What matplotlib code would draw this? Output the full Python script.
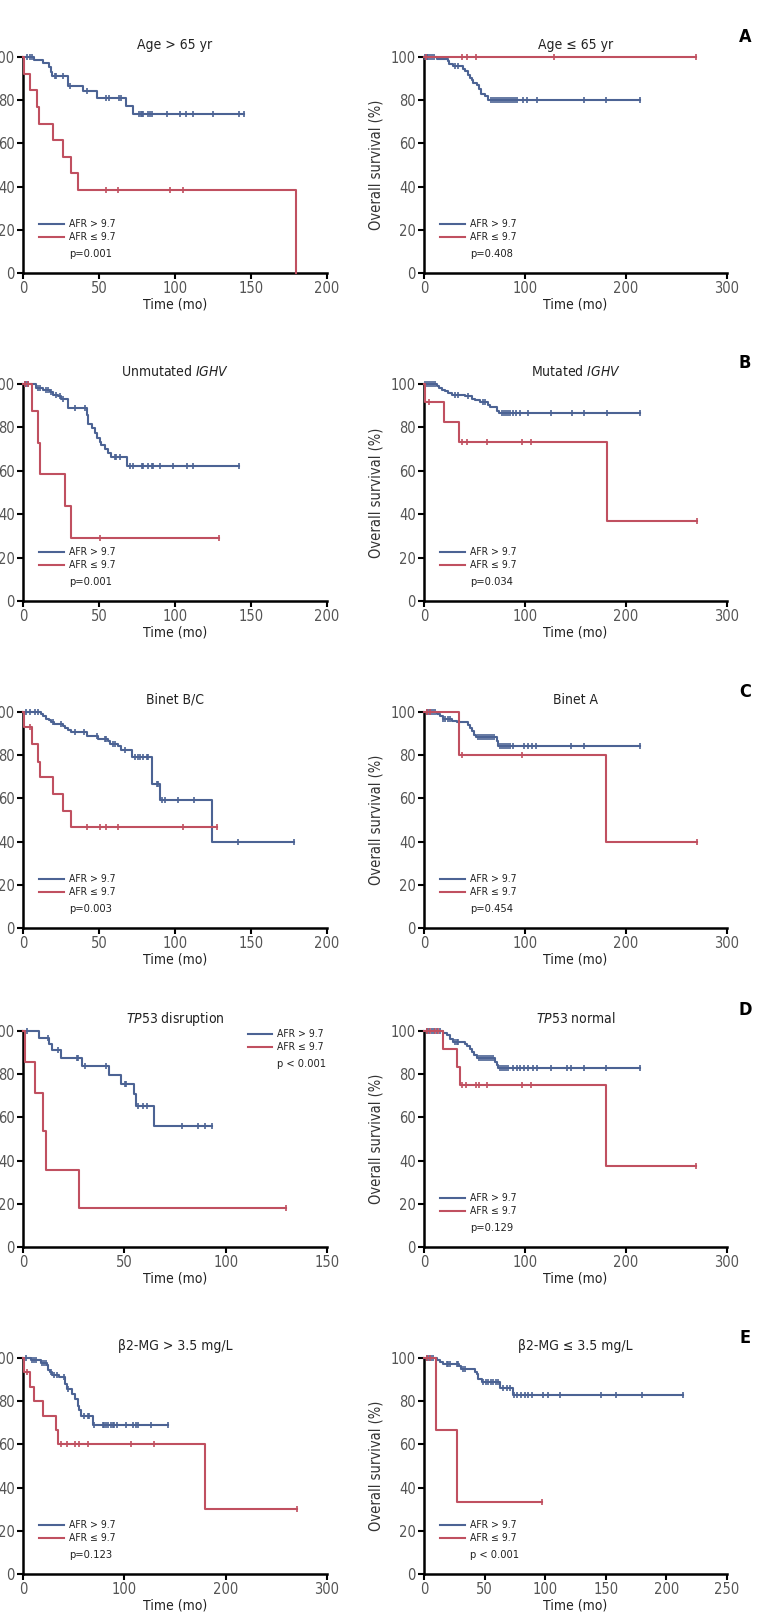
import numpy as np
import matplotlib
matplotlib.use("Agg")
import matplotlib.pyplot as plt

plt.rcParams["font.family"] = ["DejaVu Sans"]
plt.rcParams["font.stretch"] = "condensed"
plt.rcParams["mathtext.fontset"] = "custom"
plt.rcParams["mathtext.it"] = "DejaVu Sans:italic:stretch=condensed"
plt.rcParams["mathtext.rm"] = "DejaVu Sans:stretch=condensed"

BLUE = "#4c6394"
RED = "#c05060"
GRAY = "#555555"

# ---- data: event times (mo), survival (%) after each event, censor times ----
A1_BLUE_T = [7.3, 13.2, 17.1, 18.7, 19.3, 29.7, 39.6, 48.8, 67.7, 72.5]
A1_BLUE_S = [98.5, 97.0, 95.4, 93.2, 91.3, 86.6, 84.2, 81.1, 77.2, 73.5]
A1_BLUE_C = [2.6, 4.4, 5.9, 20.9, 22.0, 26.4, 30.8, 41.8, 54.5, 56.7, 63.3, 64.6,
             76.5, 77.4, 78.5, 79.1, 82.4, 83.5, 84.6, 94.5, 103.3, 107.3, 112.0,
             125.3, 142.4, 145.7]
A1_RED_T = [0.4, 4.8, 9.2, 10.5, 19.8, 26.4, 31.9, 36.3, 179.8]
A1_RED_S = [92.3, 84.6, 76.9, 69.2, 61.5, 53.8, 46.2, 38.5, 0.0]
A1_RED_C = [54.9, 62.6, 96.7, 105.5]

A2_BLUE_T = [12.6, 24.1, 24.8, 29.0, 38.3, 40.6, 43.3, 45.6, 47.2, 48.9, 52.2, 54.5,
             56.5, 60.5, 63.8]
A2_BLUE_S = [98.9, 98.0, 96.8, 95.7, 94.6, 93.4, 91.8, 90.3, 89.2, 88.0, 86.9, 85.2,
             83.0, 81.8, 80.2]
A2_BLUE_C = [1.0, 2.5, 4.0, 6.0, 8.0, 10.0, 30.7, 34.0, 66, 68, 70, 72, 74, 76, 78,
             80, 82, 84, 86, 88, 90, 92, 98.4, 101.8, 111.7, 158.6, 180.0, 214.0]
A2_RED_T = []
A2_RED_S = []
A2_RED_C = [1.5, 37.3, 42.9, 51.2, 128.8, 269.6]

B1_BLUE_T = [8.4, 13.2, 17.6, 19.8, 23.1, 25.3, 29.7, 42.2, 42.9, 45.1, 47.3, 48.4,
             50.5, 51.6, 53.8, 56.0, 58.2, 68.1]
B1_BLUE_S = [98.2, 97.1, 96.1, 95.1, 94.3, 93.2, 88.8, 85.8, 81.7, 79.7, 77.3, 75.0,
             73.5, 72.0, 70.0, 68.4, 66.4, 62.2]
B1_BLUE_C = [1.1, 2.2, 3.3, 9.9, 11.0, 14.9, 16.5, 18.7, 21.5, 24.2, 26.4, 34.1, 40.7,
             60.4, 61.5, 63.7, 70.3, 72.5, 78.0, 79.1, 82.4, 84.6, 85.7, 90.1, 98.9,
             107.7, 112.1, 142.2]
B1_RED_T = [5.9, 9.9, 11.0, 27.5, 31.9]
B1_RED_S = [87.5, 72.9, 58.3, 43.8, 29.2]
B1_RED_C = [1.1, 3.3, 50.5, 128.8]

B2_BLUE_T = [12.6, 15.2, 17.5, 20.8, 24.1, 27.4, 40.6, 47.2, 50.5, 55.5, 63.1, 65.4,
             72.0, 74.3]
B2_BLUE_S = [99.2, 98.2, 97.4, 96.6, 95.8, 95.1, 94.3, 93.2, 92.5, 91.5, 90.4, 89.4,
             87.5, 86.6]
B2_BLUE_C = [1.0, 3.0, 5.0, 7.0, 9.0, 11.0, 30.7, 34.0, 43.9, 58.8, 60.5, 77, 79, 81,
             83, 85, 88, 91, 95, 103.4, 125.9, 146.3, 158.9, 181.0, 214.0]
B2_RED_T = [0.5, 19.8, 35.0, 181.0]
B2_RED_S = [91.7, 82.5, 73.3, 36.7]
B2_RED_C = [5.0, 37.3, 42.9, 62.8, 96.8, 105.7, 270.2]

C1_BLUE_T = [12.1, 13.2, 15.4, 17.1, 18.7, 20.4, 26.4, 27.5, 29.7, 31.9, 41.8, 49.5,
             56.0, 57.1, 62.6, 64.2, 71.4, 84.6, 90.1, 124.6]
C1_BLUE_S = [99.1, 98.0, 96.9, 96.1, 95.2, 94.3, 93.4, 92.6, 91.8, 90.7, 88.7, 87.5,
             86.4, 85.3, 84.1, 82.6, 79.2, 66.8, 59.1, 39.7]
C1_BLUE_C = [2.2, 4.4, 8.1, 9.9, 19.8, 25.3, 34.1, 40.2, 48.4, 53.8, 54.9, 59.3, 60.4,
             67.0, 73.6, 75.8, 76.9, 79.1, 81.3, 82.4, 87.9, 89.0, 91.2, 93.4, 102.2,
             112.5, 141.5, 178.0]
C1_RED_T = [0.7, 5.9, 9.9, 11.0, 19.8, 26.4, 31.9]
C1_RED_S = [92.9, 85.2, 76.9, 69.8, 62.0, 54.3, 46.6]
C1_RED_C = [4.8, 42.4, 50.5, 54.5, 62.6, 105.0, 127.5]

C2_BLUE_T = [12.6, 15.9, 18.5, 27.4, 33.0, 44.0, 45.6, 47.2, 49.6, 51.5, 72.0, 73.7]
C2_BLUE_S = [98.9, 98.0, 96.9, 96.0, 95.2, 94.1, 92.6, 91.0, 89.5, 88.4, 86.4, 84.4]
C2_BLUE_C = [2.6, 4.5, 6.5, 8.5, 10.5, 19.2, 20.8, 24.1, 25.8, 35.0, 53, 55, 57, 59,
             61, 63, 65, 67, 69, 75, 77, 79, 81, 83, 85, 88.5, 99.0, 103.4, 107.3,
             111.0, 145.7, 158.6, 214.0]
C2_RED_T = [34.7, 180.4]
C2_RED_S = [80.0, 40.0]
C2_RED_C = [2.6, 5.9, 37.3, 97.5, 270.0]

D1_BLUE_T = [8.0, 12.7, 14.2, 18.9, 28.9, 42.3, 48.2, 54.8, 55.7, 64.5]
D1_BLUE_S = [96.9, 93.8, 91.0, 87.7, 84.0, 79.5, 75.3, 70.7, 65.1, 55.9]
D1_BLUE_C = [1.8, 12.2, 17.2, 26.4, 27.3, 30.6, 41.1, 50.2, 50.7, 56.5, 59.0, 61.0,
             78.3, 86.3, 90.0, 93.3]
D1_RED_T = [0.8, 5.9, 10.0, 11.4, 27.6]
D1_RED_S = [85.7, 71.4, 53.6, 35.7, 17.9]
D1_RED_C = [129.8]

D2_BLUE_T = [19.2, 22.5, 25.8, 29.1, 40.6, 42.9, 45.6, 47.9, 49.9, 52.2, 70.4, 72.0,
             73.7]
D2_BLUE_S = [99.1, 98.0, 96.5, 94.9, 94.1, 93.1, 91.8, 90.3, 89.0, 87.7, 85.6, 84.1,
             82.7]
D2_BLUE_C = [2.6, 5.0, 7.5, 10.0, 12.5, 15.9, 30.7, 32.4, 34.0, 54, 56, 58, 60, 62,
             64, 66, 68, 75.5, 77.5, 79.5, 81.5, 83.5, 88.5, 91.8, 95.1, 99.1, 103.4,
             107.7, 111.7, 125.9, 142.0, 145.7, 158.9, 180.0, 214.0]
D2_RED_T = [19.2, 33.0, 35.7, 180.4]
D2_RED_S = [91.5, 83.2, 74.8, 37.3]
D2_RED_C = [2.6, 5.9, 10.9, 14.2, 37.3, 41.6, 51.5, 54.2, 62.1, 96.8, 106.0, 269.2]

E1_BLUE_T = [8.3, 17.5, 24.1, 25.1, 26.4, 29.0, 35.6, 41.6, 43.2, 48.8, 51.5, 53.8,
             55.4, 57.1, 68.6]
E1_BLUE_S = [98.9, 97.8, 96.8, 94.6, 93.4, 92.3, 91.2, 88.0, 85.6, 83.5, 80.8, 78.0,
             75.8, 73.3, 68.8]
E1_BLUE_C = [3.3, 9.2, 10.9, 12.5, 19.1, 20.8, 22.4, 27.5, 30.7, 34.0, 40.6, 44.5,
             60.4, 63.7, 65.3, 70.3, 78.5, 80.2, 81.8, 83.5, 86.8, 88.4, 90.1, 92.4,
             101.7, 108.3, 111.6, 113.2, 126.4, 142.9]
E1_RED_T = [1.0, 6.6, 10.9, 20.1, 32.3, 35.0, 179.9]
E1_RED_S = [93.3, 86.7, 80.0, 73.3, 66.7, 60.0, 30.0]
E1_RED_C = [4.3, 37.3, 43.9, 51.5, 55.4, 63.7, 106.6, 129.0, 270.0]

E2_BLUE_T = [10.4, 13.2, 15.9, 28.8, 30.2, 42.0, 43.4, 44.8, 47.5, 62.6, 73.1]
E2_BLUE_S = [99.1, 98.1, 97.2, 96.1, 94.7, 93.5, 92.4, 90.5, 88.8, 86.2, 82.8]
E2_BLUE_C = [2.2, 4.0, 6.0, 7.7, 18.7, 20.0, 21.4, 26.9, 28.3, 32.4, 33.8, 49, 51, 53,
             55, 57, 59, 61, 65.4, 68.1, 70.9, 74.5, 77, 80, 83, 86, 88.7, 97.8,
             102.5, 112.1, 145.9, 158.8, 179.9, 213.7]
E2_RED_T = [9.6, 26.9]
E2_RED_S = [66.7, 33.3]
E2_RED_C = [2.2, 4.9, 97.5]

TITLES = ["Age > 65 yr", "Age \u2264 65 yr",
          "Unmutated $\\mathit{IGHV}$", "Mutated $\\mathit{IGHV}$",
          "Binet B/C", "Binet A",
          "$\\mathit{TP53}$ disruption", "$\\mathit{TP53}$ normal",
          "\u03b22-MG > 3.5 mg/L", "\u03b22-MG \u2264 3.5 mg/L"]
P_VALUES = ["p=0.001", "p=0.408", "p=0.001", "p=0.034", "p=0.003", "p=0.454",
            "p < 0.001", "p=0.129", "p=0.123", "p < 0.001"]
X_MAX = [200, 300, 200, 300, 200, 300, 150, 300, 300, 250]
X_STEP = [50, 100, 50, 100, 50, 100, 50, 100, 100, 50]
ROW_LETTERS = ["A", "B", "C", "D", "E"]
GROUP_LABELS = ["AFR > 9.7", "AFR \u2264 9.7"]

CURVES = [
    ((A1_BLUE_T, A1_BLUE_S, A1_BLUE_C), (A1_RED_T, A1_RED_S, A1_RED_C)),
    ((A2_BLUE_T, A2_BLUE_S, A2_BLUE_C), (A2_RED_T, A2_RED_S, A2_RED_C)),
    ((B1_BLUE_T, B1_BLUE_S, B1_BLUE_C), (B1_RED_T, B1_RED_S, B1_RED_C)),
    ((B2_BLUE_T, B2_BLUE_S, B2_BLUE_C), (B2_RED_T, B2_RED_S, B2_RED_C)),
    ((C1_BLUE_T, C1_BLUE_S, C1_BLUE_C), (C1_RED_T, C1_RED_S, C1_RED_C)),
    ((C2_BLUE_T, C2_BLUE_S, C2_BLUE_C), (C2_RED_T, C2_RED_S, C2_RED_C)),
    ((D1_BLUE_T, D1_BLUE_S, D1_BLUE_C), (D1_RED_T, D1_RED_S, D1_RED_C)),
    ((D2_BLUE_T, D2_BLUE_S, D2_BLUE_C), (D2_RED_T, D2_RED_S, D2_RED_C)),
    ((E1_BLUE_T, E1_BLUE_S, E1_BLUE_C), (E1_RED_T, E1_RED_S, E1_RED_C)),
    ((E2_BLUE_T, E2_BLUE_S, E2_BLUE_C), (E2_RED_T, E2_RED_S, E2_RED_C)),
]

# pixel layout of the original (761 x 1618)
W, H = 761, 1618
ROW_TOP = [57, 384, 712, 1031, 1358]
ROW_BOT = [273, 601, 928, 1247, 1574]
COL_LEFT = [23, 424]
COL_RIGHT = [327, 727]
LETTER_Y = [37, 363, 692, 1010, 1338]


def km_curve(ax, times, surv, cens, color):
    end = max(list(times) + list(cens))
    x = [0] + list(times) + [end]
    y = [100] + list(surv) + [([100] + list(surv))[-1]]
    ax.step(x, y, where="post", color=color, lw=1.5, clip_on=False, zorder=3)
    levels = np.array([100] + list(surv))
    idx = np.searchsorted(np.array(times, dtype=float), cens, side="right")
    ax.plot(cens, levels[idx], ls="none", marker="|", ms=4.5, mew=1.2,
            color=color, clip_on=False, zorder=3)


fig = plt.figure(figsize=(W / 100, H / 100), dpi=100)

for i, ((blue, red), title, pval) in enumerate(zip(CURVES, TITLES, P_VALUES)):
    row, col = divmod(i, 2)
    x0, x1 = COL_LEFT[col], COL_RIGHT[col]
    y0, y1 = ROW_TOP[row], ROW_BOT[row]
    ax = fig.add_axes([x0 / W, 1 - y1 / H, (x1 - x0) / W, (y1 - y0) / H])

    km_curve(ax, *blue, BLUE)
    km_curve(ax, *red, RED)

    ax.set_xlim(0, X_MAX[i])
    ax.set_ylim(0, 100)
    ax.set_xticks(np.arange(0, X_MAX[i] + 1, X_STEP[i]))
    ax.set_yticks(np.arange(0, 101, 20))
    for s in ["top", "right"]:
        ax.spines[s].set_visible(False)
    for s in ["left", "bottom"]:
        ax.spines[s].set_linewidth(1.8)
    ax.tick_params(direction="out", length=4, width=1.5, labelsize=10.5,
                   labelcolor=GRAY, pad=2)
    ax.set_title(title, fontsize=10, color="#222222", pad=6)
    ax.set_xlabel("Time (mo)", fontsize=10, color="#222222", labelpad=1)
    if col == 1:
        ax.set_ylabel("Overall survival (%)", fontsize=10.5, color="#333333")
        ax.yaxis.set_label_coords(-0.135, 0.5)

    # hand-drawn legend
    if i == 6:
        lx0, lx1, tx = 0.74, 0.82, 0.835
        ly = [0.985, 0.925, 0.845]
    else:
        lx0, lx1, tx = 0.053, 0.135, 0.152
        ly = [0.227, 0.167, 0.088]
    for color, label, yy in zip([BLUE, RED], GROUP_LABELS, ly[:2]):
        ax.plot([lx0, lx1], [yy, yy], color=color, lw=1.5,
                transform=ax.transAxes, clip_on=False)
        ax.text(tx, yy, label, transform=ax.transAxes, fontsize=7.5,
                va="center", ha="left", color="#222222")
    ax.text(tx, ly[2], pval, transform=ax.transAxes, fontsize=8,
            va="center", ha="left", color="#222222")

for letter, ly in zip(ROW_LETTERS, LETTER_Y):
    fig.text(745 / W, 1 - ly / H, letter, fontsize=13, fontweight="bold",
             ha="center", va="center")

fig.savefig("out.png", dpi=100)
